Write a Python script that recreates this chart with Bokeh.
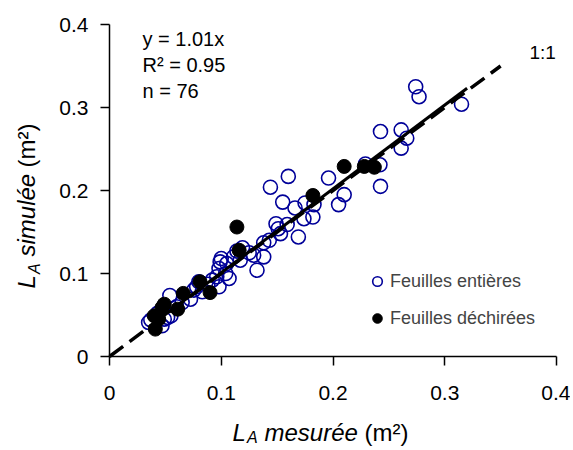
import math
from bokeh.plotting import figure
from bokeh.models import Range1d, FixedTicker, Label, Legend, LegendItem, LinearAxis
from bokeh.embed import file_html
from bokeh.resources import INLINE

# ---------------- data ----------------
entieres_x = [0.274, 0.277, 0.315, 0.261, 0.2425, 0.266, 0.261, 0.2425, 0.242, 0.229,
              0.210, 0.205, 0.196, 0.160, 0.144, 0.155, 0.166, 0.175, 0.183, 0.182,
              0.174, 0.169, 0.159, 0.149, 0.151, 0.153, 0.143, 0.138, 0.138, 0.132,
              0.129, 0.119, 0.117, 0.111, 0.105, 0.099, 0.098, 0.107, 0.104, 0.096,
              0.098, 0.080, 0.0755, 0.083, 0.0725, 0.054, 0.055, 0.049, 0.035, 0.047,
              0.078, 0.052, 0.037, 0.100, 0.060, 0.065, 0.043, 0.088, 0.114, 0.125,
              0.092]
entieres_y = [0.325, 0.313, 0.304, 0.273, 0.271, 0.263, 0.251, 0.205, 0.231, 0.232,
              0.195, 0.183, 0.215, 0.217, 0.204, 0.186, 0.179, 0.185, 0.183, 0.168,
              0.166, 0.144, 0.159, 0.160, 0.154, 0.148, 0.140, 0.137, 0.120, 0.104,
              0.122, 0.131, 0.116, 0.120, 0.112, 0.114, 0.106, 0.094, 0.100, 0.096,
              0.084, 0.090, 0.080, 0.078, 0.069, 0.0735, 0.049, 0.045, 0.041, 0.037,
              0.084, 0.047, 0.044, 0.118, 0.060, 0.065, 0.052, 0.087, 0.127, 0.125,
              0.092]
dechirees_x = [0.041, 0.040, 0.044, 0.047, 0.049, 0.061, 0.066, 0.081, 0.090,
               0.114, 0.116, 0.182, 0.210, 0.228, 0.237]
dechirees_y = [0.033, 0.049, 0.045, 0.059, 0.063, 0.057, 0.076, 0.090, 0.077,
               0.156, 0.128, 0.194, 0.229, 0.229, 0.228]
fit_slope = 1.01
fit_x = [0.035, 0.32]
ref_x = [0.0, 0.35]
ticks = [0, 0.1, 0.2, 0.3, 0.4]
tick_labels = ["0", "0.1", "0.2", "0.3", "0.4"]
stats_lines = ["y = 1.01x", "R² = 0.95", "n = 76"]
ref_label = "1:1"
series_names = ["Feuilles entières", "Feuilles déchirées"]
xlabel_parts = ["L", "A", "mesurée", "(m²)"]
ylabel_parts = ["L", "A", "simulée", "(m²)"]

# ---------------- layout (page pixels) ----------------
FONT = "Liberation Sans"
BLUE = "#000099"
W, H = 570, 446
F_LEFT, F_RIGHT, F_TOP, F_BOTTOM = 109, 556, 24, 356     # where 0..0.4 maps
AX_MIN, AX_MAX = 0.0, 0.4
KX = (F_RIGHT - F_LEFT) / (AX_MAX - AX_MIN)
KY = (F_BOTTOM - F_TOP) / (AX_MAX - AX_MIN)
x_start, x_end = AX_MIN - F_LEFT / KX, AX_MIN + (W - F_LEFT) / KX
y_start, y_end = AX_MIN - (H - F_BOTTOM) / KY, AX_MAX + F_TOP / KY

def dx(px):   # page x -> data x
    return x_start + px / KX

def dy(py):   # page y -> data y
    return y_end - py / KY

p = figure(width=W, height=H, x_range=Range1d(x_start, x_end), y_range=Range1d(y_start, y_end),
           output_backend="svg", toolbar_location=None, min_border=0,
           x_axis_location=None, y_axis_location=None)
p.outline_line_color = None
p.grid.visible = False
p.background_fill_color = "white"
p.border_fill_color = "white"

def make_axis():
    ax = LinearAxis(fixed_location=0, bounds=(AX_MIN, AX_MAX), ticker=FixedTicker(ticks=ticks))
    ax.major_label_overrides = {t: l for t, l in zip(ticks, tick_labels)}
    ax.axis_line_color = "black"
    ax.axis_line_width = 1.5
    ax.major_tick_line_color = "black"
    ax.major_tick_line_width = 1.5
    ax.major_tick_in = 0
    ax.major_tick_out = 9
    ax.minor_tick_line_color = None
    ax.major_label_text_font = FONT
    ax.major_label_text_font_size = "21px"
    ax.major_label_text_color = "black"
    return ax

xaxis = make_axis()
xaxis.major_label_standoff = 20
yaxis = make_axis()
yaxis.major_label_standoff = 12
p.add_layout(xaxis, "below")
p.add_layout(yaxis, "left")

r_ent = p.scatter(entieres_x, entieres_y, marker="circle", size=14, fill_color=None,
                  line_color=BLUE, line_width=1.6)
p.line(ref_x, ref_x, line_color="black", line_width=3.5, line_dash="17 8")
p.line(fit_x, [fit_slope * v for v in fit_x], line_color="black", line_width=3)
r_dec = p.scatter(dechirees_x, dechirees_y, marker="circle", size=14, fill_color="black",
                  line_color="black", line_width=1)

legend = Legend(items=[LegendItem(label=series_names[0], renderers=[r_ent]),
                       LegendItem(label=series_names[1], renderers=[r_dec])],
                location=(365, H - 330), padding=0, spacing=13, glyph_width=24, glyph_height=24,
                label_height=24, label_standoff=1, border_line_color=None,
                background_fill_alpha=0, label_text_font=FONT, label_text_font_size="18px",
                margin=0)
p.add_layout(legend)

def lab(px, py, t, size, style="normal", angle=0.0):
    # (px, py) is the page position of the text's vertical middle / left start
    p.add_layout(Label(x=dx(px), y=dy(py), text=t, text_font=FONT, text_font_size=size,
                       text_font_style=style, text_baseline="middle", text_align="left",
                       text_color="black", angle=angle))

for i, t in enumerate(stats_lines):
    lab(142, 38 + 26 * i, t, "20px")
lab(529, 52, ref_label, "19px")

# x-axis title (middle lines)
bx, by = 232, 432
lab(bx, by, xlabel_parts[0], "24px", "italic")
lab(bx + 14.5, by + 5, xlabel_parts[1], "16px", "italic")
lab(bx + 32, by, xlabel_parts[2], "24px", "italic")
lab(bx + 132, by, xlabel_parts[3], "24px", "normal")

# y-axis title (rotated, reads bottom to top; middle lines)
A90 = math.pi / 2
ax0, ay0 = 26, 288
lab(ax0, ay0, ylabel_parts[0], "24px", "italic", A90)
lab(ax0 + 7.5, ay0 - 14.5, ylabel_parts[1], "16px", "italic", A90)
lab(ax0, ay0 - 32, ylabel_parts[2], "24px", "italic", A90)
lab(ax0, ay0 - 121, ylabel_parts[3], "24px", "normal", A90)

open("out.html", "w").write(file_html(p, INLINE))
